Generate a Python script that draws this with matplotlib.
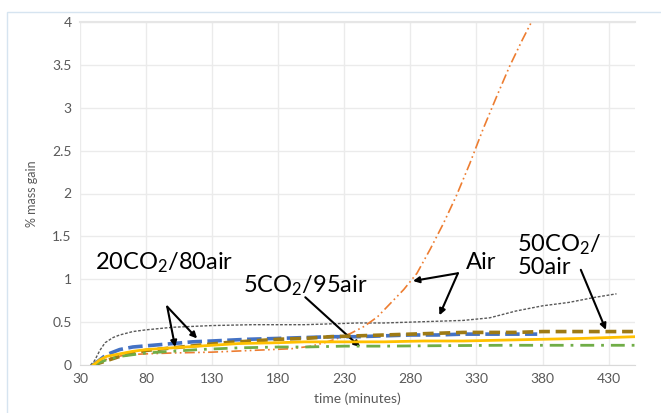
import matplotlib
matplotlib.use("Agg")
import matplotlib.pyplot as plt
from matplotlib.patches import Rectangle

plt.rcParams['font.family'] = ['Lato', 'DejaVu Sans']
plt.rcParams['mathtext.default'] = 'regular'

# ---- data ----
t_air1 = [38, 41, 45, 49, 55, 60, 70, 80, 100, 130, 160, 180, 200, 220, 240, 260, 280, 300,
          320, 340, 350, 360, 370, 380, 390, 400, 410, 420, 436]
v_air1 = [0, 0.05, 0.17, 0.26, 0.32, 0.35, 0.39, 0.41, 0.44, 0.46, 0.47, 0.47, 0.47, 0.48, 0.49,
          0.49, 0.50, 0.51, 0.52, 0.55, 0.59, 0.63, 0.66, 0.69, 0.71, 0.73, 0.76, 0.79, 0.83]

t_air2 = [40, 45, 55, 66, 80, 100, 130, 160, 190, 205, 215, 225, 235, 245, 255, 265, 275, 285,
          295, 305, 315, 325, 335, 345, 355, 365, 375]
v_air2 = [0, 0.04, 0.09, 0.12, 0.13, 0.14, 0.15, 0.17, 0.19, 0.22, 0.26, 0.31, 0.37, 0.45, 0.56,
          0.72, 0.88, 1.07, 1.35, 1.65, 1.98, 2.35, 2.75, 3.12, 3.48, 3.8, 4.1]

t_20co2 = [40, 45, 50, 55, 60, 70, 85, 100, 115, 130, 157, 180, 200, 220, 240, 260, 280, 300,
           320, 340, 360, 376]
v_20co2 = [0, 0.06, 0.12, 0.15, 0.18, 0.21, 0.23, 0.25, 0.27, 0.28, 0.30, 0.31, 0.32, 0.33, 0.33,
           0.34, 0.35, 0.35, 0.36, 0.36, 0.36, 0.36]

t_50co2 = [40, 50, 60, 70, 80, 100, 120, 140, 160, 180, 200, 220, 240, 260, 280, 300, 320, 340,
           360, 380, 400, 420, 440, 450]
v_50co2 = [0, 0.05, 0.10, 0.14, 0.17, 0.20, 0.23, 0.26, 0.28, 0.30, 0.31, 0.33, 0.34, 0.35, 0.36,
           0.37, 0.38, 0.38, 0.38, 0.39, 0.39, 0.39, 0.39, 0.39]

t_5co2 = [40, 50, 60, 70, 80, 100, 120, 150, 180, 200, 230, 260, 300, 350, 400, 450]
v_5co2 = [0, 0.06, 0.10, 0.12, 0.14, 0.16, 0.18, 0.20, 0.21, 0.21, 0.22, 0.22, 0.225, 0.23, 0.23, 0.23]

t_yel = [40, 45, 50, 60, 70, 80, 100, 120, 150, 180, 200, 230, 260, 290, 320, 350, 380, 410, 430, 450]
v_yel = [0, 0.06, 0.10, 0.13, 0.16, 0.18, 0.20, 0.22, 0.25, 0.26, 0.27, 0.27, 0.27, 0.28, 0.28,
         0.29, 0.30, 0.31, 0.32, 0.33]

x_ticks = [30, 80, 130, 180, 230, 280, 330, 380, 430]
y_ticks = [0, 0.5, 1, 1.5, 2, 2.5, 3, 3.5, 4]
y_labels = ['0', '0.5', '1', '1.5', '2', '2.5', '3', '3.5', '4']

# ---- figure ----
fig = plt.figure(figsize=(6.61, 4.13), dpi=100)
ax = fig.add_axes([80/661, 1-365/413, 555/661, 343/413])

# outer chart border (light blue)
fig.patches.append(Rectangle((7/661, -0.1), 1.2, 1-12/413+0.1, transform=fig.transFigure,
                             fill=False, edgecolor='#D6E4F0', lw=1.0))

ax.plot(t_air1, v_air1, color='#595959', lw=1.0, ls=(0, (2, 1.2)), zorder=3)
ax.plot(t_air2, v_air2, color='#ED7D31', lw=1.2, ls=(0, (6, 2, 1, 2, 1, 2)), zorder=3)
ax.plot(t_20co2, v_20co2, color='#4472C4', lw=2.6, ls=(0, (4, 1.5)), zorder=3)
ax.plot(t_50co2, v_50co2, color='#9E7A14', lw=2.6, ls=(0, (3, 1.6)), zorder=4)
ax.plot(t_5co2, v_5co2, color='#70AD47', lw=2.0, ls=(0, (5, 2.5, 1, 2.5)), zorder=4)
ax.plot(t_yel, v_yel, color='#FFC000', lw=2.0, ls='-', zorder=5)

ax.set_xlim(30, 450)
ax.set_ylim(0, 4)
ax.set_xticks(x_ticks)
ax.set_yticks(y_ticks)
ax.set_yticklabels(y_labels)
ax.tick_params(length=0, labelsize=10, colors='#595959', pad=6)
ax.grid(True, color='#EBEBEB', lw=1.0)
ax.set_axisbelow(True)
for s in ['top', 'right', 'left']:
    ax.spines[s].set_visible(False)
ax.spines['bottom'].set_color('#D9D9D9')
ax.axhline(4, color='#E6E6E6', lw=1.5, zorder=1, clip_on=False)

ax.set_xlabel('time (minutes)', fontsize=10, color='#595959', labelpad=5)
ax.set_ylabel('% mass gain', fontsize=9, color='#595959', labelpad=10)

# ---- annotations ----
fs = 17
ap = dict(arrowstyle='-|>', color='black', lw=1.5, mutation_scale=9, shrinkA=0, shrinkB=0)
ax.text(41.5, 1.19, '20CO$_2$/80air', fontsize=fs, va='center', ha='left', color='black')
ax.annotate('', xy=(102, 0.21), xytext=(96, 0.68), arrowprops=ap)
ax.annotate('', xy=(118.6, 0.31), xytext=(96, 0.68), arrowprops=ap)

ax.text(153.5, 0.93, '5CO$_2$/95air', fontsize=fs, va='center', ha='left', color='black')
ax.annotate('', xy=(242, 0.21), xytext=(200.5, 0.79), arrowprops=ap)

ax.text(321.7, 1.19, 'Air', fontsize=fs, va='center', ha='left', color='black')
ax.annotate('', xy=(282, 0.98), xytext=(316, 1.07), arrowprops=ap)
ax.annotate('', xy=(302, 0.58), xytext=(316, 1.07), arrowprops=ap)

ax.text(361, 1.28, '50CO$_2$/\n50air', fontsize=fs, va='center', ha='left', color='black',
        linespacing=1.05)
ax.annotate('', xy=(428, 0.41), xytext=(409, 1.11), arrowprops=ap)

fig.savefig('out.png', dpi=100)
